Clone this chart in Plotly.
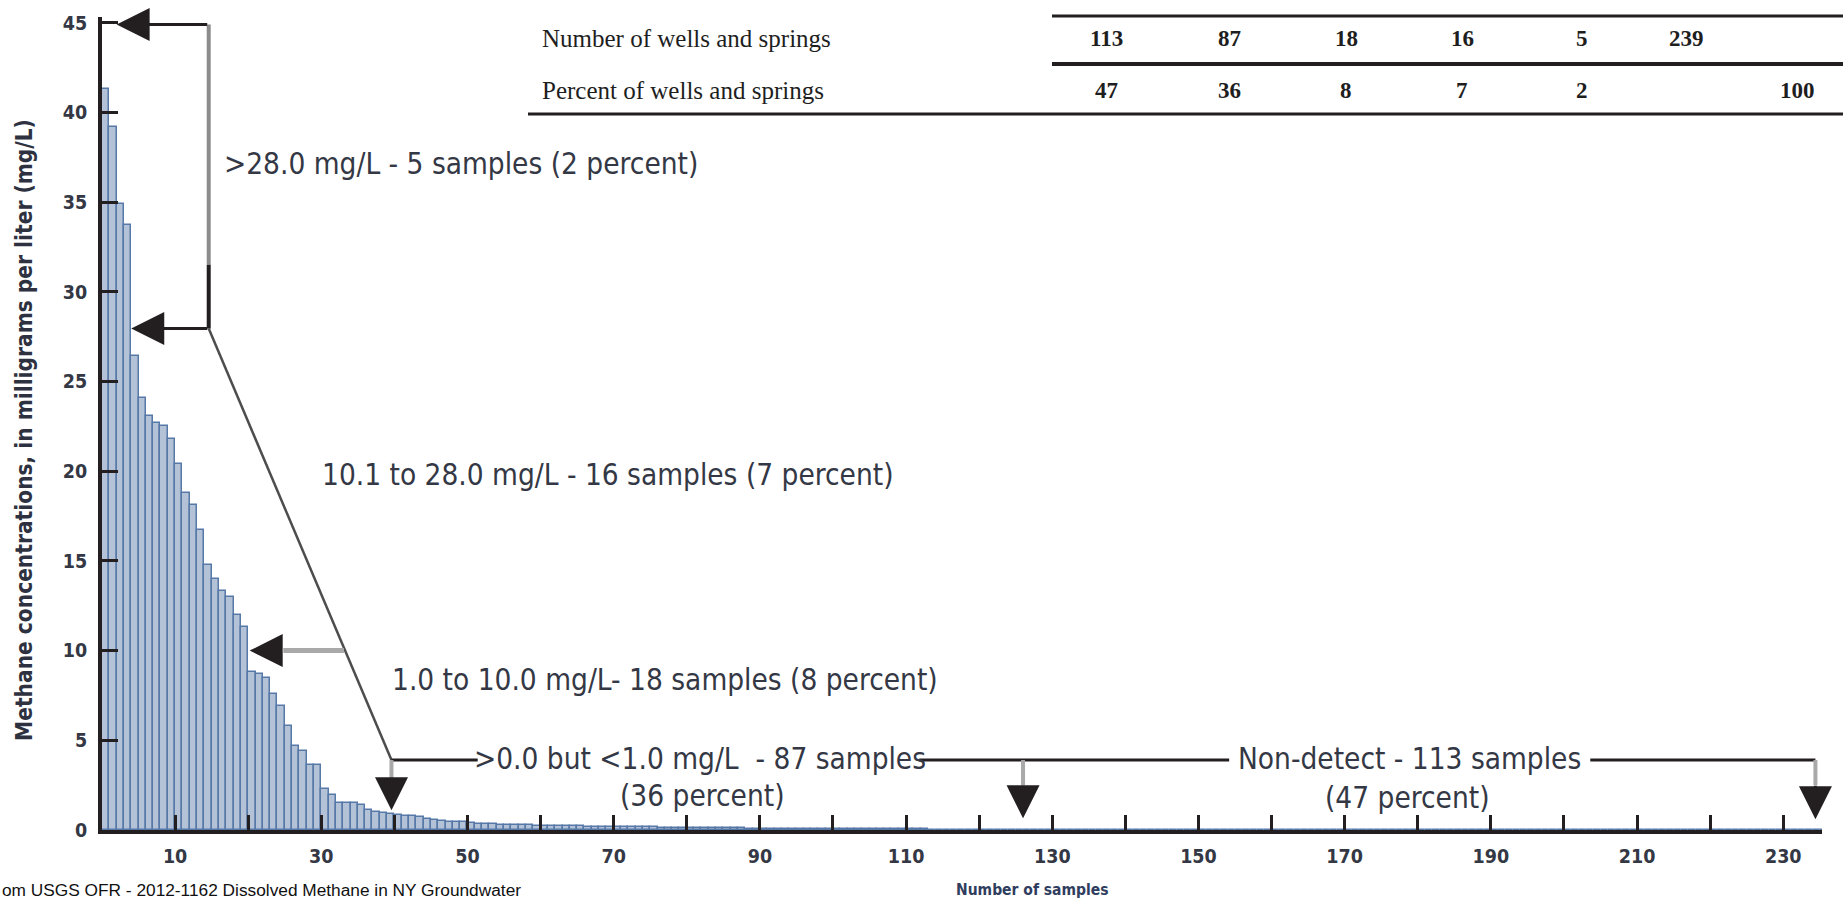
import plotly.graph_objects as go

# ---------------------------------------------------------------------------
# Data: methane in each sampled well / spring, ranked high to low (mg/L)
# ---------------------------------------------------------------------------
conc_one_and_above = [41.3, 39.2, 34.9, 33.7, 26.4, 24.1, 23.1, 22.7, 22.5, 21.8,
                      20.4, 18.8, 18.1, 16.7, 14.8, 14.0, 13.3, 13.0, 12.0, 11.3,
                      8.8, 8.7, 8.5, 7.6, 6.9, 5.8, 4.7, 4.4, 3.6, 3.6,
                      2.3, 1.95, 1.5, 1.5, 1.5, 1.4, 1.1, 1.0]
conc_below_one = [0.95, 0.92, 0.85, 0.80, 0.76, 0.70, 0.60, 0.55, 0.50, 0.47,
                  0.45, 0.42, 0.37, 0.34, 0.33, 0.31, 0.29, 0.28, 0.28, 0.27,
                  0.26, 0.25, 0.23, 0.22, 0.21, 0.21, 0.20, 0.20, 0.19, 0.19,
                  0.18, 0.18, 0.17, 0.17, 0.16, 0.15, 0.14, 0.14, 0.13, 0.13,
                  0.12, 0.12, 0.11, 0.11, 0.10, 0.10, 0.10, 0.09, 0.09, 0.09,
                  0.08, 0.08, 0.08, 0.07, 0.07, 0.07, 0.06, 0.06, 0.06, 0.06,
                  0.05, 0.05, 0.05, 0.05, 0.04, 0.04, 0.04, 0.04, 0.04, 0.03,
                  0.03, 0.03, 0.03, 0.03, 0.03, 0.02, 0.02, 0.02, 0.02, 0.02,
                  0.02, 0.02, 0.01, 0.01, 0.01, 0.01, 0.01]
conc_non_detect = [0.0] * 113

y_tick_values = [0, 5, 10, 15, 20, 25, 30, 35, 40, 45]
x_tick_labels = [10, 30, 50, 70, 90, 110, 130, 150, 170, 190, 210, 230]

table_row_names = ["Number of wells and springs", "Percent of wells and springs"]
table_counts = [113, 87, 18, 16, 5, 239, None]
table_percents = [47, 36, 8, 7, 2, None, 100]

range_labels = [">28.0 mg/L - 5 samples (2 percent)",
                "10.1 to 28.0 mg/L - 16 samples (7 percent)",
                "1.0 to 10.0 mg/L- 18 samples (8 percent)",
                ">0.0 but &lt;1.0 mg/L \u00a0- 87 samples",
                "(36 percent)",
                "Non-detect - 113 samples",
                "(47 percent)"]

source_note = "om USGS OFR - 2012-1162 Dissolved Methane in NY Groundwater"

concentration = conc_one_and_above + conc_below_one + conc_non_detect
sample_number = list(range(1, len(concentration) + 1))

# ---------------------------------------------------------------------------
# Styling / layout constants
# ---------------------------------------------------------------------------
W, H = 1843, 904
ML, MR, MT, MB = 102, 21, 17, 74
PLOT_W, PLOT_H = W - ML - MR, H - MT - MB
X_MAX = 235.3
Y_MAX = 45.32

INK = "#231f20"
TEXT = "#343845"
COND = "DejaVu Sans Condensed, Liberation Sans Narrow, sans-serif"
SERIF = "Liberation Serif, Times New Roman, serif"


def px_x(p):
    return (p - ML) / PLOT_W


def px_y(p):
    return (H - MB - p) / PLOT_H


fig = go.Figure()

fig.add_trace(go.Bar(
    x=sample_number, y=concentration, width=1, offset=-1,
    marker=dict(color="#b3c2d6", line=dict(color="#5679a8", width=1.5)),
    hoverinfo="x+y", showlegend=False,
))

axis_common = dict(showgrid=False, zeroline=False, showline=True,
                   linecolor=INK, linewidth=4, ticks="inside",
                   tickcolor=INK, tickwidth=3)
tick_font = dict(family=COND, size=19.5, color=TEXT, weight="bold")

tick_marks = list(range(10, 240, 10))
fig.update_layout(
    width=W, height=H,
    margin=dict(l=ML, r=MR, t=MT, b=MB, pad=0),
    paper_bgcolor="white", plot_bgcolor="white",
    bargap=0,
    xaxis=dict(range=[0, X_MAX], tickvals=tick_marks,
               ticktext=[str(v) if v in x_tick_labels else "" for v in tick_marks],
               ticklen=15, tickfont=tick_font, ticklabelstandoff=6,
               **axis_common),
    yaxis=dict(range=[0, Y_MAX], tickvals=y_tick_values, ticklen=16,
               tickfont=tick_font, ticklabelstandoff=7, **axis_common),
    # short top frame over the tallest bars
    xaxis2=dict(anchor="y", side="top", domain=[0, px_x(512)],
                range=[0, px_x(512) * X_MAX], tickvals=[10, 20, 30, 40, 50],
                ticklen=18, showticklabels=False, **axis_common),
    # right-hand frame
    yaxis2=dict(anchor="x", side="right", domain=[0, px_y(135)],
                range=[0, px_y(135) * Y_MAX], tick0=4.96, dtick=4.42,
                ticklen=16, showticklabels=False, **axis_common),
)

shapes = []
annotations = []


def seg(x0, y0, x1, y1, color=INK, width=3):
    shapes.append(dict(type="line", xref="x", yref="y", x0=x0, y0=y0,
                       x1=x1, y1=y1, layer="above",
                       line=dict(color=color, width=width)))


def arrow(xt, yt, xs, ys):
    annotations.append(dict(x=xt, y=yt, ax=xs, ay=ys, xref="x", yref="y",
                            axref="x", ayref="y", text="", showarrow=True,
                            arrowhead=2, arrowsize=2.2, arrowwidth=3,
                            arrowcolor=INK, standoff=0))


GRAY = "#8c8c8c"
LIGHT = "#a9a9a9"
BRACKET_Y = 3.9

# >28 mg/L bracket
arrow(2.0, 44.9, 14.6, 44.9)
seg(14.6, 44.9, 14.6, 31.5, GRAY, 4)
seg(14.6, 31.5, 14.6, 27.95, INK, 4)
arrow(4.0, 27.95, 14.6, 27.95)
# diagonal leader down to the <1 mg/L bracket
seg(14.6, 27.95, 39.6, BRACKET_Y, "#4d4d4d", 2.5)
# 10 mg/L pointer
seg(33.1, 10.0, 24.8, 10.0, LIGHT, 5)
arrow(20.2, 10.0, 24.8, 10.0)
# >0 but <1 and non-detect brackets
seg(39.6, BRACKET_Y, 51.4, BRACKET_Y)
seg(111.8, BRACKET_Y, 154.2, BRACKET_Y)
seg(203.6, BRACKET_Y, 234.4, BRACKET_Y)
for xb in (39.6, 126.0, 234.4):
    seg(xb, BRACKET_Y, xb, 2.5, LIGHT, 4)
arrow(39.6, 1.1, 39.6, 2.7)
arrow(126.0, 0.65, 126.0, 2.55)
arrow(234.4, 0.6, 234.4, 2.55)

label_font = dict(family=COND, size=29.5, color=TEXT)
label_spots = [(16.4, 37.1, "left"), (29.8, 19.8, "left"), (39.4, 8.36, "left"),
               (81.8, 3.95, "center"), (82.1, 1.9, "center"),
               (178.8, 3.95, "center"), (178.6, 1.8, "center")]
for txt, (lx, ly, anc) in zip(range_labels, label_spots):
    annotations.append(dict(x=lx, y=ly, xref="x", yref="y", text=txt,
                            showarrow=False, xanchor=anc, yanchor="middle",
                            font=label_font))

# summary table above the plot: top, middle and bottom rules (y, x start, weight)
table_rules = [(16, 1052, 3), (64, 1052, 4), (114, 528, 3)]
for rule_y, rule_x, rule_w in table_rules:
    shapes.append(dict(type="line", xref="paper", yref="paper", layer="above",
                       x0=px_x(rule_x), x1=px_x(W + 5),
                       y0=px_y(rule_y), y1=px_y(rule_y),
                       line=dict(color=INK, width=rule_w)))
row_y = [39, 90]
for name, ry in zip(table_row_names, row_y):
    annotations.append(dict(x=px_x(540), y=px_y(ry), xref="paper", yref="paper",
                            text=name, showarrow=False, xanchor="left",
                            yanchor="middle",
                            font=dict(family=SERIF, size=25, color="#1e1e1e")))
col_x = [1106, 1229, 1346, 1462, 1582, 1686, 1797]
for row, ry in zip((table_counts, table_percents), row_y):
    for val, cx in zip(row, col_x):
        if val is None:
            continue
        annotations.append(dict(x=px_x(cx), y=px_y(ry), xref="paper",
                                yref="paper", text=f"<b>{val}</b>",
                                showarrow=False, xanchor="center",
                                yanchor="middle",
                                font=dict(family=SERIF, size=23, color="#1e1e1e")))

# axis titles and source line
annotations.append(dict(x=px_x(24), y=px_y(430), xref="paper", yref="paper",
                        text="<b>Methane concentrations, in milligrams per liter (mg/L)</b>",
                        textangle=-90, showarrow=False, xanchor="center",
                        yanchor="middle",
                        font=dict(family=COND, size=22.5, color="#2e3240")))
annotations.append(dict(x=px_x(1032), y=px_y(890), xref="paper", yref="paper",
                        text="<b>Number of samples</b>", showarrow=False,
                        xanchor="center", yanchor="middle",
                        font=dict(family=COND, size=15.5, color="#2f3d5e")))
annotations.append(dict(x=px_x(0), y=px_y(890), xref="paper", yref="paper",
                        text=source_note, showarrow=False, xanchor="left",
                        yanchor="middle",
                        font=dict(family="Liberation Sans, Arial, sans-serif",
                                  size=17.3, color="#111111")))

fig.update_layout(shapes=shapes, annotations=annotations)
fig.write_html("out.html")
